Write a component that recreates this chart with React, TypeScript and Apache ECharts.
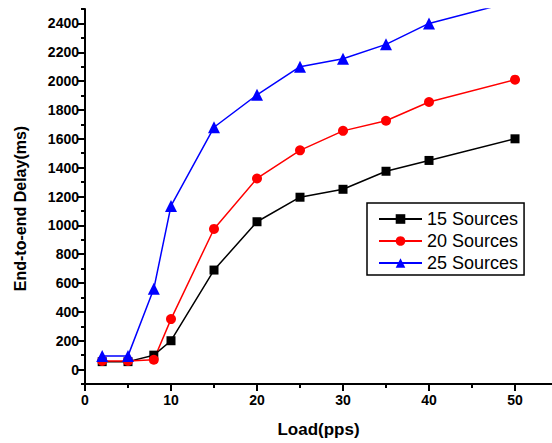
import React, { useEffect, useRef } from "react";
import * as echarts from "echarts";

// Offered load (packets per second)
const loads = [2, 5, 8, 10, 15, 20, 25, 30, 35, 40, 50];

// Mean end-to-end delay (ms) for each number of sources
const delay15 = [55, 55, 100, 200, 690, 1025, 1195, 1250, 1375, 1450, 1600];
const delay20 = [60, 60, 68, 350, 975, 1325, 1520, 1655, 1725, 1855, 2010];
const delay25 = [95, 95, 560, 1135, 1680, 1905, 2100, 2155, 2255, 2400, 2555];

const seriesNames = ["15 Sources", "20 Sources", "25 Sources"];

// Axis ticks: labelled majors and unlabelled minors
const yMajor = [0, 200, 400, 600, 800, 1000, 1200, 1400, 1600, 1800, 2000, 2200, 2400];
const yMinor = [-100, 100, 300, 500, 700, 900, 1100, 1300, 1500, 1700, 1900, 2100, 2300, 2500];
const xMajor = [0, 10, 20, 30, 40, 50];
const xMinor = [5, 15, 25, 35, 45];

const FONT = "'Liberation Sans', Arial, sans-serif";

const pairs = (ys: number[]) => loads.map((x, i) => [x, ys[i]]);
const plain = (v: number) => String(v);

export default function App() {
  const ref = useRef<HTMLDivElement>(null);

  useEffect(() => {
    if (!ref.current) return;
    const chart = echarts.init(ref.current, null, { renderer: "svg" });

    const axisLine = { show: true, onZero: false, lineStyle: { color: "#000", width: 2 } };

    chart.setOption({
      animation: false,
      backgroundColor: "#fff",
      grid: { left: 85, top: 9, right: 0, bottom: 59, containLabel: false },
      legend: {
        orient: "vertical",
        left: 367,
        top: 203,
        data: seriesNames,
        itemWidth: 43,
        itemHeight: 12,
        itemGap: 0,
        padding: [5, 6, 1, 11],
        borderColor: "#000",
        borderWidth: 1.5,
        borderRadius: 0,
        backgroundColor: "#fff",
        textStyle: { fontFamily: FONT, fontSize: 18, color: "#000", lineHeight: 22 },
      },
      xAxis: [
        {
          type: "value",
          min: 0,
          max: 54.3,
          interval: 10,
          position: "bottom",
          name: "Load(pps)",
          nameLocation: "middle",
          nameGap: 37,
          nameTextStyle: { fontFamily: FONT, fontSize: 17, fontWeight: "bold", color: "#000" },
          axisLine,
          axisTick: { show: true, inside: false, length: 7, customValues: xMajor, lineStyle: { color: "#000", width: 2 } },
          axisLabel: { show: true, customValues: xMajor, formatter: plain, margin: 9, fontFamily: FONT, fontSize: 14, fontWeight: "bold", color: "#000" },
          splitLine: { show: false },
        },
        {
          type: "value",
          min: 0,
          max: 54.3,
          interval: 10,
          position: "bottom",
          axisLine: { show: false, onZero: false },
          axisTick: { show: true, inside: false, length: 4, customValues: xMinor, lineStyle: { color: "#000", width: 2 } },
          axisLabel: { show: false },
          splitLine: { show: false },
        },
      ],
      yAxis: [
        {
          type: "value",
          min: -100,
          max: 2500,
          interval: 100,
          position: "left",
          name: "End-to-end Delay(ms)",
          nameLocation: "middle",
          nameRotate: 90,
          nameGap: 57,
          nameTextStyle: { fontFamily: FONT, fontSize: 16, fontWeight: "bold", color: "#000", padding: [0, 24, 0, 0] },
          axisLine,
          axisTick: { show: true, inside: false, length: 7, customValues: yMajor, lineStyle: { color: "#000", width: 2 } },
          axisLabel: { show: true, customValues: yMajor, formatter: plain, margin: 6, fontFamily: FONT, fontSize: 14, fontWeight: "bold", color: "#000" },
          splitLine: { show: false },
        },
        {
          type: "value",
          min: -100,
          max: 2500,
          interval: 100,
          position: "left",
          offset: 0,
          axisLine: { show: false, onZero: false },
          axisTick: { show: true, inside: false, length: 4, customValues: yMinor, lineStyle: { color: "#000", width: 2 } },
          axisLabel: { show: false },
          splitLine: { show: false },
        },
      ],
      series: [
        {
          name: seriesNames[0],
          type: "line",
          data: pairs(delay15),
          symbol: "rect",
          symbolSize: 9,
          color: "#000",
          lineStyle: { width: 1.5, color: "#000" },
          itemStyle: { color: "#000" },
        },
        {
          name: seriesNames[1],
          type: "line",
          data: pairs(delay20),
          symbol: "circle",
          symbolSize: 10,
          color: "#ff0000",
          lineStyle: { width: 1.5, color: "#ff0000" },
          itemStyle: { color: "#ff0000" },
        },
        {
          name: seriesNames[2],
          type: "line",
          data: pairs(delay25),
          symbol: "triangle",
          symbolSize: 12,
          color: "#0000ff",
          lineStyle: { width: 1.5, color: "#0000ff" },
          itemStyle: { color: "#0000ff" },
        },
      ],
    });

    return () => chart.dispose();
  }, []);

  return (
    <div
      ref={ref}
      style={{ position: "fixed", left: 0, top: 0, width: 552, height: 443 }}
    />
  );
}
